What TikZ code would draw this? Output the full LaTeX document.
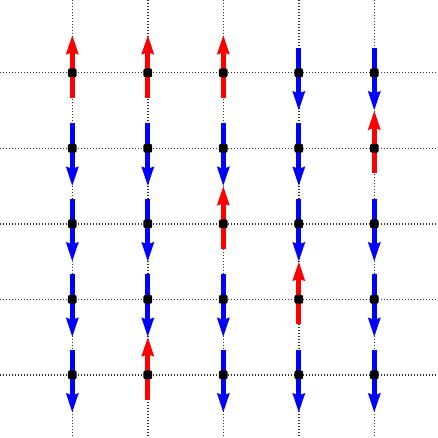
\documentclass[tikz,border=0pt]{standalone}
\usetikzlibrary{arrows.meta}
\begin{document}
\begin{tikzpicture}[x=0.5pt,y=-0.5pt,
  gridline/.style={line width=0.7pt, black!80, dash pattern=on 0.6pt off 0.9pt},
  spinup/.style={red, line width=2.5pt, -{Stealth[length=9.5pt,width=5.8pt,inset=0.8pt]}},
  spindown/.style={blue, line width=2.5pt, -{Stealth[length=9.5pt,width=5.8pt,inset=0.8pt]}},
  site/.style={rectangle, rounded corners=1pt, fill=black, inner sep=0pt, minimum size=4.4pt}]
\useasboundingbox (0,0) rectangle (438,438);
% grid lines
\foreach \i in {0,...,4}{
  \draw[gridline] (72.3+75.5*\i,0) -- (72.3+75.5*\i,438);
  \draw[gridline] (0,72.8+75.5*\i) -- (438,72.8+75.5*\i);
}
% up spins (column/row)
\foreach \c/\r in {0/0,1/0,2/0,4/1,2/2,3/3,1/4}{
  \coordinate (ua-\c-\r) at (72.3+75.5*\c,72.8+75.5*\r+25);
  \coordinate (ub-\c-\r) at (72.3+75.5*\c,72.8+75.5*\r-38);
  \draw[spinup] (ua-\c-\r) -- (ub-\c-\r);
}
% down spins
\foreach \c/\r in {3/0,4/0,0/1,1/1,2/1,3/1,0/2,1/2,3/2,4/2,0/3,1/3,2/3,4/3,0/4,2/4,3/4,4/4}{
  \coordinate (da-\c-\r) at (72.3+75.5*\c,72.8+75.5*\r-25);
  \coordinate (db-\c-\r) at (72.3+75.5*\c,72.8+75.5*\r+38);
  \draw[spindown] (da-\c-\r) -- (db-\c-\r);
}
% lattice sites
\foreach \c in {0,...,4}{
  \foreach \r in {0,...,4}{
    \node[site] (s-\c-\r) at (72.3+75.5*\c,72.8+75.5*\r) {};
  }
}
\end{tikzpicture}
\end{document}
